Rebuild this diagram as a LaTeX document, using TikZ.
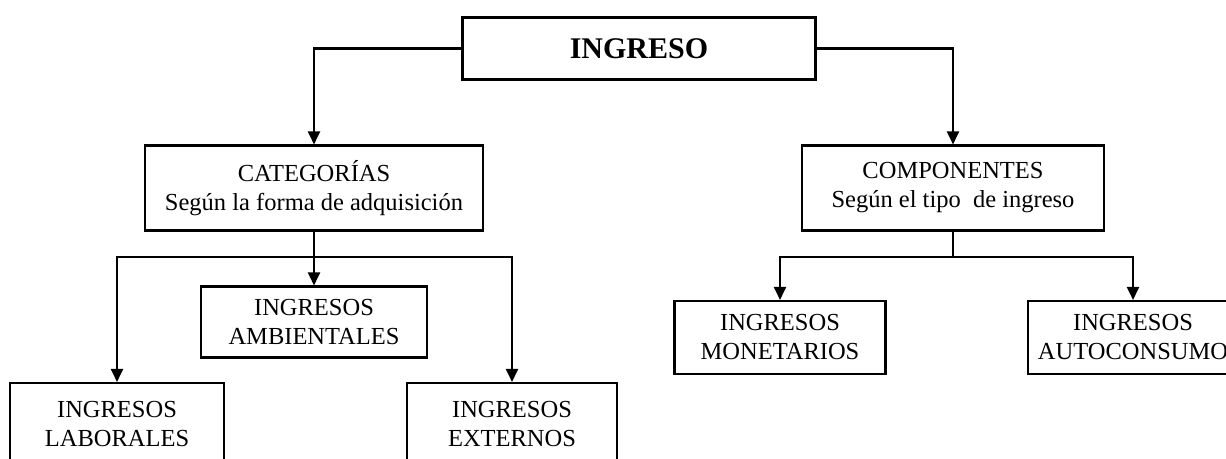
\documentclass[tikz,border=0pt]{standalone}
\usepackage{fontspec}
\setmainfont{Liberation Serif}
\usetikzlibrary{arrows.meta}
\begin{document}
\begin{tikzpicture}[x=1pt,y=-1pt,
  box/.style={draw=black, line width=2.1pt, fill=white, align=center, inner sep=0pt,
    font=\fontsize{24.5}{29}\selectfont, anchor=center},
  conn/.style={line width=2.1pt, draw=black},
  arr/.style={conn, -{Triangle[length=13pt,width=12pt]}}]
\useasboundingbox (0,0) rectangle (1226,458);
\clip (0,0) rectangle (1226,458);
\fill[white] (0,0) rectangle (1226,458);
% nodes
\node[box, minimum width=353pt, minimum height=62pt, font=\fontsize{30}{34}\selectfont\bfseries] (ing) at (639,48.5) {INGRESO};
\node[box, minimum width=338pt, minimum height=85pt] (cat) at (314,188) {CATEGORÍAS\\Según la forma de adquisición};
\node[box, minimum width=302pt, minimum height=85pt] (com) at (953,188) {COMPONENTES\\Según el tipo~ de ingreso};
\node[box, minimum width=226pt, minimum height=71pt] (amb) at (314,322) {INGRESOS\\AMBIENTALES};
\node[box, minimum width=214pt, minimum height=82pt] (lab) at (117,424) {INGRESOS\\LABORALES};
\node[box, minimum width=210pt, minimum height=82pt] (ext) at (512,424) {INGRESOS\\EXTERNOS};
\node[box, minimum width=211pt, minimum height=73pt] (mon) at (780,337.5) {INGRESOS\\MONETARIOS};
\node[box, minimum width=210pt, minimum height=73pt] (aut) at (1133,337.5) {INGRESOS\\AUTOCONSUMO};
% junctions
\coordinate (jl) at (314,257);
\coordinate (jr) at (953,257);
% connectors
\draw[arr] (ing.west) -| (cat.north);
\draw[arr] (ing.east) -| (com.north);
\draw[conn] (cat.south) -- (jl);
\draw[arr] (jl) -- (amb.north);
\draw[arr] (jl) -| (lab.north);
\draw[arr] (jl) -| (ext.north);
\draw[conn] (com.south) -- (jr);
\draw[arr] (jr) -| (mon.north);
\draw[arr] (jr) -| (aut.north);
\end{tikzpicture}
\end{document}
